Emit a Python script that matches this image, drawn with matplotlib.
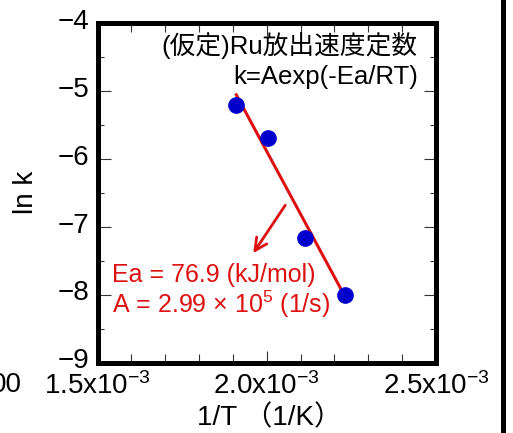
import numpy as np
import matplotlib
matplotlib.use("Agg")
import matplotlib.pyplot as plt
from matplotlib.lines import Line2D
from matplotlib.transforms import ScaledTranslation
from matplotlib.ticker import MultipleLocator, FuncFormatter

plt.rcParams.update({
    "font.family": ["Liberation Sans", "Noto Sans CJK JP"],
    "mathtext.fontset": "custom",
    "mathtext.rm": "Liberation Sans",
    "mathtext.default": "regular",
})

RED, BLUE = "#dd1111", "#0000cc"

# Arrhenius data
inv_T = [1.910e-3, 2.005e-3, 2.112e-3, 2.232e-3]   # 1/K
ln_k = [-5.21, -5.69, -7.16, -8.01]
EA_KJ = 76.9          # kJ/mol (shown in the label)
A_PRE = 2.99e5        # 1/s
R_GAS = 8.314

x_ticks = [1.5e-3, 2.0e-3, 2.5e-3]
y_ticks = [-4, -5, -6, -7, -8, -9]

fig = plt.figure(figsize=(5.13, 4.33), dpi=100)
ax = fig.add_axes([0.1901, 0.1628, 0.6598, 0.7841])

# fit line from Ea and A
xf = np.array([min(inv_T), max(inv_T)])
yf = np.log(A_PRE) - EA_KJ * 1000 / R_GAS * xf
ax.plot(xf, yf, color=RED, lw=2.2, zorder=2)
ax.plot(inv_T, ln_k, "o", color=BLUE, ms=11, zorder=3)

ax.set_xlim(1.5e-3, 2.5e-3)
ax.set_ylim(-9, -4)
ax.set_xticks(x_ticks)
ax.set_yticks(y_ticks)
ax.xaxis.set_minor_locator(MultipleLocator(1e-4))
ax.yaxis.set_minor_locator(MultipleLocator(0.5))
ax.xaxis.set_major_formatter(FuncFormatter(lambda v, p: f"{v*1e3:.1f}x10$^{{-3}}$"))

for s in ax.spines.values():
    s.set_linewidth(3.6)
ax.tick_params(which="both", direction="in", top=True, right=True,
               width=0.8, color="#333333", labelsize=20)
ax.tick_params(which="major", length=9)
ax.tick_params(axis="x", which="minor", length=6.5)
ax.tick_params(axis="y", which="minor", length=4.5)
ax.tick_params(axis="x", pad=7)
ax.tick_params(axis="y", pad=6)
# y labels sit a little above their ticks in the original
for lab in ax.get_yticklabels():
    lab.set_transform(lab.get_transform() + ScaledTranslation(0, 3 / 72, fig.dpi_scale_trans))

ax.text(0.944, 0.935, "(仮定)Ru放出速度定数", transform=ax.transAxes,
        ha="right", va="center", fontsize=18.5)
ax.text(0.947, 0.841, "k=Aexp(-Ea/RT)", transform=ax.transAxes,
        ha="right", va="center", fontsize=18.5)

ax.annotate("", xy=(1.960e-3, -7.39), xytext=(2.0546e-3, -6.684),
            arrowprops=dict(arrowstyle="->", color=RED, lw=2,
                            mutation_scale=22, shrinkA=0, shrinkB=0))
ax.text(1.543e-3, -7.717, "Ea = 76.9 (kJ/mol)", color=RED, fontsize=18, va="center")
ax.text(1.543e-3, -8.149, "A = 2.99 × 10$^5$ (1/s)", color=RED, fontsize=18, va="center")

fig.text(26 / 513, 1 - 192.5 / 433, "ln k", rotation=90, ha="center", va="center", fontsize=20)
fig.text(269 / 513, 1 - 418 / 433, "1/T （1/K）", ha="center", va="center", fontsize=20)

# fragments of the neighbouring panels
fig.text(22 / 513, 1 - 385 / 433, "00", ha="right", va="center", fontsize=20)
fig.add_artist(Line2D([502.5 / 513] * 2, [0, 1], lw=3.6, color="k",
                      transform=fig.transFigure))

fig.savefig("out.png", dpi=100)
